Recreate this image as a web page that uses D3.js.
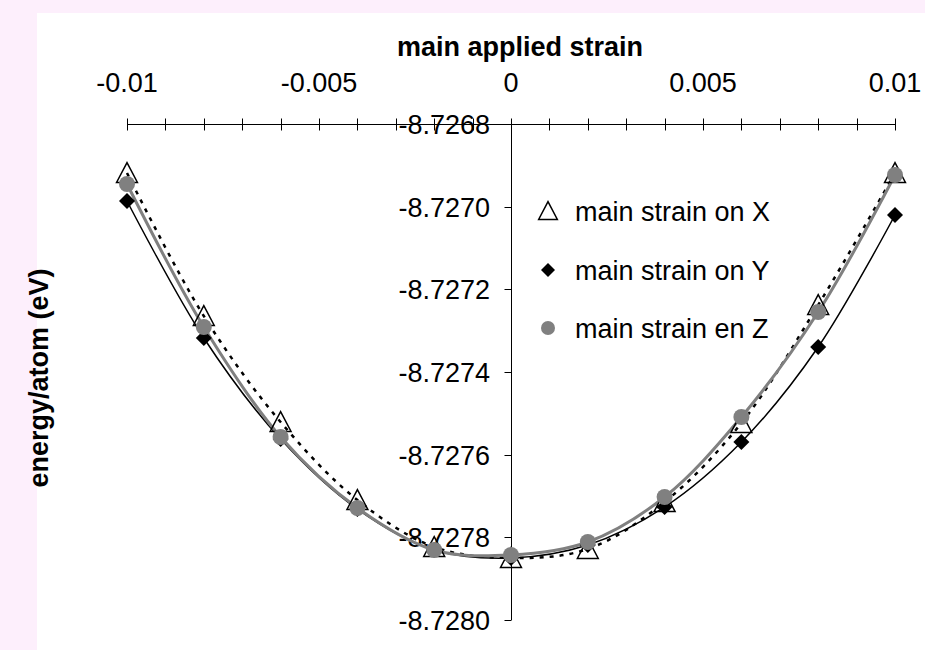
<!DOCTYPE html>
<html>
<head>
<meta charset="utf-8">
<script src="https://cdn.jsdelivr.net/npm/d3@7"></script>
<style>
  html, body { margin: 0; padding: 0; background: #fdeffc; }
  svg { display: block; }
  text { font-family: "Liberation Sans", Arial, sans-serif; fill: #000; }
</style>
</head>
<body>
<svg id="chart" width="925" height="650"></svg>
<script>
// ---- data ----
const strains = [-0.01, -0.008, -0.006, -0.004, -0.002, 0, 0.002, 0.004, 0.006, 0.008, 0.01];
const energyX = [-8.7269185, -8.7272645, -8.7275210, -8.7277097, -8.7278234, -8.7278500, -8.7278282, -8.7277145, -8.7275234, -8.7272379, -8.7269185];
const energyY = [-8.7269863, -8.7273177, -8.7275621, -8.7277315, -8.7278306, -8.7278500, -8.7278186, -8.7277266, -8.7275694, -8.7273395, -8.7270202];
const energyZ = [-8.7269452, -8.7272911, -8.7275573, -8.7277290, -8.7278306, -8.7278427, -8.7278113, -8.7277024, -8.7275089, -8.7272548, -8.7269234];
const seriesNames = ["main strain on X", "main strain on Y", "main strain en Z"];
const xMajorTicks = [-0.01, -0.005, 0, 0.005, 0.01];
const xTickLabels = ["-0.01", "-0.005", "0", "0.005", "0.01"];
const xMinorTicks = [-0.01, -0.009, -0.008, -0.007, -0.006, -0.005, -0.004, -0.003, -0.002, -0.001, 0, 0.001, 0.002, 0.003, 0.004, 0.005, 0.006, 0.007, 0.008, 0.009, 0.01];
const yTicks = [-8.7268, -8.7270, -8.7272, -8.7274, -8.7276, -8.7278, -8.7280];
const xTitle = "main applied strain";
const yTitle = "energy/atom (eV)";

const svg = d3.select("#chart");
const W = 925, H = 650;

// white chart area
svg.append("rect").attr("x", 37).attr("y", 13).attr("width", W - 37).attr("height", H - 13).attr("fill", "#fff");

const x = d3.scaleLinear().domain([-0.01, 0.01]).range([127, 895]);
const y = d3.scaleLinear().domain([-8.7268, -8.7280]).range([124, 620]);
const FS = 27;

// ---- x axis (top, at y max) ----
const xAxisY = y(-8.7268) + 0.5;
const gx = svg.append("g").attr("transform", `translate(0,${xAxisY})`);
gx.append("line").attr("x1", x(-0.01)).attr("x2", x(0.01)).attr("y1", 0).attr("y2", 0).attr("stroke", "#000").attr("stroke-width", 1);
gx.selectAll("line.tk").data(xMinorTicks).join("line").attr("class", "tk")
  .attr("x1", d => Math.round(x(d)) + 0.5).attr("x2", d => Math.round(x(d)) + 0.5)
  .attr("y1", -6).attr("y2", 6).attr("stroke", "#000").attr("stroke-width", 1);
svg.selectAll("text.xl").data(xMajorTicks).join("text").attr("class", "xl")
  .attr("x", d => x(d)).attr("y", 92).attr("text-anchor", "middle")
  .attr("font-size", FS).text((d, i) => xTickLabels[i]);
svg.append("text").attr("x", 520).attr("y", 56).attr("text-anchor", "middle")
  .attr("font-size", FS).attr("font-weight", "bold").text(xTitle);

// ---- y axis (at x = 0) ----
const yAxisX = Math.round(x(0)) + 0.5;
svg.append("line").attr("x1", yAxisX).attr("x2", yAxisX).attr("y1", y(-8.7268)).attr("y2", y(-8.7280)).attr("stroke", "#000").attr("stroke-width", 1);
svg.selectAll("line.ytk").data(yTicks).join("line").attr("class", "ytk")
  .attr("x1", yAxisX - 7).attr("x2", yAxisX).attr("y1", d => Math.round(y(d)) + 0.5).attr("y2", d => Math.round(y(d)) + 0.5)
  .attr("stroke", "#000").attr("stroke-width", 1);
svg.selectAll("text.yl").data(yTicks).join("text").attr("class", "yl")
  .attr("x", 490).attr("y", d => y(d) + 10).attr("text-anchor", "end")
  .attr("font-size", FS).text(d => d.toFixed(4));
svg.append("text").attr("transform", "translate(48,378) rotate(-90)").attr("text-anchor", "middle")
  .attr("font-size", FS).attr("font-weight", "bold").text(yTitle);

// ---- lines ----
const pts = arr => strains.map((s, i) => [x(s), y(arr[i])]);
const line = d3.line().curve(d3.curveCatmullRom.alpha(0.5));
svg.append("path").attr("d", line(pts(energyX))).attr("fill", "none").attr("stroke", "#000").attr("stroke-width", 2.5).attr("stroke-dasharray", "4,6");
svg.append("path").attr("d", line(pts(energyY))).attr("fill", "none").attr("stroke", "#000").attr("stroke-width", 1.5);
svg.append("path").attr("d", line(pts(energyZ))).attr("fill", "none").attr("stroke", "#808080").attr("stroke-width", 3);

// ---- markers ----
function triPath(s) { return `M0,${-s*0.55}L${s*0.55},${s*0.5}L${-s*0.55},${s*0.5}Z`; }
function diaPath(r) { return `M0,${-r}L${r},0L0,${r}L${-r},0Z`; }
svg.selectAll("path.mx").data(pts(energyX)).join("path").attr("class", "mx")
  .attr("transform", d => `translate(${d[0]},${d[1]})`).attr("d", triPath(19))
  .attr("fill", "none").attr("stroke", "#000").attr("stroke-width", 1.5);
svg.selectAll("path.my").data(pts(energyY)).join("path").attr("class", "my")
  .attr("transform", d => `translate(${d[0]},${d[1]})`).attr("d", diaPath(8)).attr("fill", "#000");
svg.selectAll("circle.mz").data(pts(energyZ)).join("circle").attr("class", "mz")
  .attr("cx", d => d[0]).attr("cy", d => d[1]).attr("r", 8).attr("fill", "#808080");

// ---- legend ----
const legY = [211, 270, 328];
const lg = svg.append("g");
lg.append("path").attr("transform", `translate(548,${legY[0]})`).attr("d", triPath(17)).attr("fill", "none").attr("stroke", "#000").attr("stroke-width", 1.5);
lg.append("path").attr("transform", `translate(548,${legY[1]})`).attr("d", diaPath(7)).attr("fill", "#000");
lg.append("circle").attr("cx", 548).attr("cy", legY[2]).attr("r", 7).attr("fill", "#808080");
lg.selectAll("text").data(seriesNames).join("text")
  .attr("x", 575).attr("y", (d, i) => legY[i] + 10).attr("font-size", FS).text(d => d);
</script>
</body>
</html>
